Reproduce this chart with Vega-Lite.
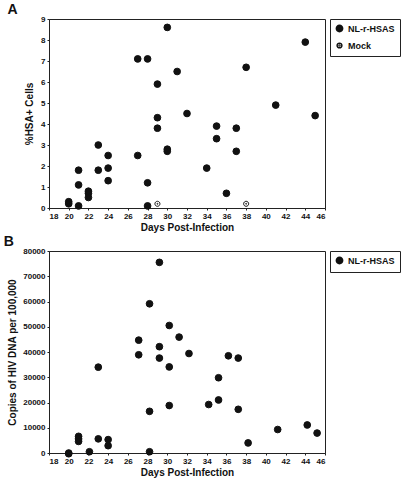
{
  "$schema": "https://vega.github.io/schema/vega-lite/v6.json",
  "padding": {"left": 3, "top": 2, "right": 5, "bottom": 2},
  "bounds": "flush",
  "spacing": 43,
  "config": {
    "font": "Liberation Sans",
    "view": {"stroke": "#222", "strokeWidth": 1},
    "axis": {
      "grid": false,
      "labelFont": "Liberation Sans",
      "labelFontWeight": "bold",
      "labelFontSize": 8,
      "labelColor": "#111",
      "titleFont": "Liberation Sans",
      "titleFontWeight": "bold",
      "titleFontSize": 10,
      "titleColor": "#111",
      "domainColor": "#222",
      "tickColor": "#222",
      "tickSize": 2,
      "labelPadding": 2
    },
    "legend": {
      "orient": "right",
      "offset": 5,
      "strokeColor": "#222",
      "padding": 5,
      "labelFont": "Liberation Sans",
      "labelFontWeight": "bold",
      "labelFontSize": 9,
      "labelColor": "#111",
      "symbolSize": 40,
      "rowPadding": 5
    },
    "title": {"font": "Liberation Sans", "fontWeight": "bold", "fontSize": 14, "anchor": "start", "color": "#111"}
  },
  "datasets": {
    "a": [
      {"day": 20, "pct": 0.3, "series": "NL-r-HSAS"},
      {"day": 20, "pct": 0.2, "series": "NL-r-HSAS"},
      {"day": 21, "pct": 1.8, "series": "NL-r-HSAS"},
      {"day": 21, "pct": 1.1, "series": "NL-r-HSAS"},
      {"day": 21, "pct": 0.1, "series": "NL-r-HSAS"},
      {"day": 22, "pct": 0.8, "series": "NL-r-HSAS"},
      {"day": 22, "pct": 0.7, "series": "NL-r-HSAS"},
      {"day": 22, "pct": 0.5, "series": "NL-r-HSAS"},
      {"day": 23, "pct": 3.0, "series": "NL-r-HSAS"},
      {"day": 23, "pct": 1.8, "series": "NL-r-HSAS"},
      {"day": 24, "pct": 2.5, "series": "NL-r-HSAS"},
      {"day": 24, "pct": 1.9, "series": "NL-r-HSAS"},
      {"day": 24, "pct": 1.3, "series": "NL-r-HSAS"},
      {"day": 27, "pct": 7.1, "series": "NL-r-HSAS"},
      {"day": 27, "pct": 2.5, "series": "NL-r-HSAS"},
      {"day": 28, "pct": 7.1, "series": "NL-r-HSAS"},
      {"day": 28, "pct": 1.2, "series": "NL-r-HSAS"},
      {"day": 28, "pct": 0.1, "series": "NL-r-HSAS"},
      {"day": 29, "pct": 5.9, "series": "NL-r-HSAS"},
      {"day": 29, "pct": 4.3, "series": "NL-r-HSAS"},
      {"day": 29, "pct": 3.8, "series": "NL-r-HSAS"},
      {"day": 30, "pct": 8.6, "series": "NL-r-HSAS"},
      {"day": 30, "pct": 2.8, "series": "NL-r-HSAS"},
      {"day": 30, "pct": 2.7, "series": "NL-r-HSAS"},
      {"day": 31, "pct": 6.5, "series": "NL-r-HSAS"},
      {"day": 32, "pct": 4.5, "series": "NL-r-HSAS"},
      {"day": 34, "pct": 1.9, "series": "NL-r-HSAS"},
      {"day": 35, "pct": 3.9, "series": "NL-r-HSAS"},
      {"day": 35, "pct": 3.3, "series": "NL-r-HSAS"},
      {"day": 36, "pct": 0.7, "series": "NL-r-HSAS"},
      {"day": 37, "pct": 3.8, "series": "NL-r-HSAS"},
      {"day": 37, "pct": 2.7, "series": "NL-r-HSAS"},
      {"day": 38, "pct": 6.7, "series": "NL-r-HSAS"},
      {"day": 41, "pct": 4.9, "series": "NL-r-HSAS"},
      {"day": 44, "pct": 7.9, "series": "NL-r-HSAS"},
      {"day": 45, "pct": 4.4, "series": "NL-r-HSAS"},
      {"day": 29, "pct": 0.2, "series": "Mock"},
      {"day": 38, "pct": 0.2, "series": "Mock"}
    ],
    "b": [
      {"day": 20, "copies": 0, "series": "NL-r-HSAS"},
      {"day": 20, "copies": -300, "series": "NL-r-HSAS"},
      {"day": 21, "copies": 6600, "series": "NL-r-HSAS"},
      {"day": 21, "copies": 5600, "series": "NL-r-HSAS"},
      {"day": 21, "copies": 4600, "series": "NL-r-HSAS"},
      {"day": 22.1, "copies": 500, "series": "NL-r-HSAS"},
      {"day": 23, "copies": 34000, "series": "NL-r-HSAS"},
      {"day": 23, "copies": 5600, "series": "NL-r-HSAS"},
      {"day": 24, "copies": 5300, "series": "NL-r-HSAS"},
      {"day": 24, "copies": 2900, "series": "NL-r-HSAS"},
      {"day": 27.1, "copies": 44700, "series": "NL-r-HSAS"},
      {"day": 27.1, "copies": 38900, "series": "NL-r-HSAS"},
      {"day": 28.2, "copies": 59100, "series": "NL-r-HSAS"},
      {"day": 28.2, "copies": 16500, "series": "NL-r-HSAS"},
      {"day": 28.2, "copies": 500, "series": "NL-r-HSAS"},
      {"day": 29.2, "copies": 75500, "series": "NL-r-HSAS"},
      {"day": 29.2, "copies": 42100, "series": "NL-r-HSAS"},
      {"day": 29.2, "copies": 37600, "series": "NL-r-HSAS"},
      {"day": 30.2, "copies": 50500, "series": "NL-r-HSAS"},
      {"day": 30.2, "copies": 34100, "series": "NL-r-HSAS"},
      {"day": 30.2, "copies": 18800, "series": "NL-r-HSAS"},
      {"day": 31.2, "copies": 45900, "series": "NL-r-HSAS"},
      {"day": 32.2, "copies": 39400, "series": "NL-r-HSAS"},
      {"day": 34.2, "copies": 19200, "series": "NL-r-HSAS"},
      {"day": 35.2, "copies": 29800, "series": "NL-r-HSAS"},
      {"day": 35.2, "copies": 21000, "series": "NL-r-HSAS"},
      {"day": 36.2, "copies": 38500, "series": "NL-r-HSAS"},
      {"day": 37.2, "copies": 37600, "series": "NL-r-HSAS"},
      {"day": 37.2, "copies": 17300, "series": "NL-r-HSAS"},
      {"day": 38.2, "copies": 4000, "series": "NL-r-HSAS"},
      {"day": 41.2, "copies": 9300, "series": "NL-r-HSAS"},
      {"day": 44.2, "copies": 11100, "series": "NL-r-HSAS"},
      {"day": 45.2, "copies": 7900, "series": "NL-r-HSAS"}
    ]
  },
  "vconcat": [
    {
      "title": {"text": "A", "dx": -17, "offset": -2},
      "width": 276,
      "height": 189,
      "data": {"name": "a"},
      "mark": {"type": "point", "filled": true, "size": 45, "stroke": "#111", "strokeWidth": 1, "opacity": 1},
      "encoding": {
        "x": {"field": "day", "type": "quantitative", "scale": {"domain": [18, 46], "nice": false},
              "axis": {"values": [18, 20, 22, 24, 26, 28, 30, 32, 34, 36, 38, 40, 42, 44, 46], "title": "Days Post-Infection", "titlePadding": 2}},
        "y": {"field": "pct", "type": "quantitative", "scale": {"domain": [0, 9], "nice": false},
              "axis": {"values": [0, 1, 2, 3, 4, 5, 6, 7, 8, 9], "title": "%HSA+ Cells", "titlePadding": 6}},
        "shape": {"field": "series", "type": "nominal",
                  "scale": {"domain": ["NL-r-HSAS", "Mock"], "range": ["circle", "M -0.75 0 A 0.75 0.75 0 1 0 0.75 0 A 0.75 0.75 0 1 0 -0.75 0 Z M -0.15 0 A 0.15 0.15 0 1 0 0.15 0 A 0.15 0.15 0 1 0 -0.15 0 Z"]},
                  "legend": {"title": null, "encode": {"symbols": {"update": {"stroke": {"value": "#111"}, "strokeWidth": {"value": 1}, "opacity": {"value": 1}}}}}},
        "fill": {"field": "series", "type": "nominal",
                 "scale": {"domain": ["NL-r-HSAS", "Mock"], "range": ["#111", "white"]},
                 "legend": {"title": null, "encode": {"symbols": {"update": {"stroke": {"value": "#111"}, "strokeWidth": {"value": 1}, "opacity": {"value": 1}}}}}}
      }
    },
    {
      "title": {"text": "B", "dx": -4, "offset": -2},
      "width": 276,
      "height": 202,
      "data": {"name": "b"},
      "mark": {"type": "point", "filled": true, "size": 45, "stroke": "#111", "strokeWidth": 1, "opacity": 1},
      "encoding": {
        "x": {"field": "day", "type": "quantitative", "scale": {"domain": [18, 46], "nice": false},
              "axis": {"values": [18, 20, 22, 24, 26, 28, 30, 32, 34, 36, 38, 40, 42, 44, 46], "title": "Days Post-Infection", "titlePadding": 2}},
        "y": {"field": "copies", "type": "quantitative", "scale": {"domain": [0, 80000], "nice": false},
              "axis": {"values": [0, 10000, 20000, 30000, 40000, 50000, 60000, 70000, 80000], "format": "d", "title": "Copies of HIV DNA per 100,000", "titlePadding": 5}},
        "shape": {"field": "series", "type": "nominal",
                  "scale": {"domain": ["NL-r-HSAS"], "range": ["circle"]},
                  "legend": {"title": null}},
        "fill": {"field": "series", "type": "nominal",
                 "scale": {"domain": ["NL-r-HSAS"], "range": ["#111"]},
                 "legend": {"title": null}}
      }
    }
  ],
  "resolve": {
    "scale": {"shape": "independent", "fill": "independent"},
    "legend": {"shape": "independent", "fill": "independent"}
  }
}
